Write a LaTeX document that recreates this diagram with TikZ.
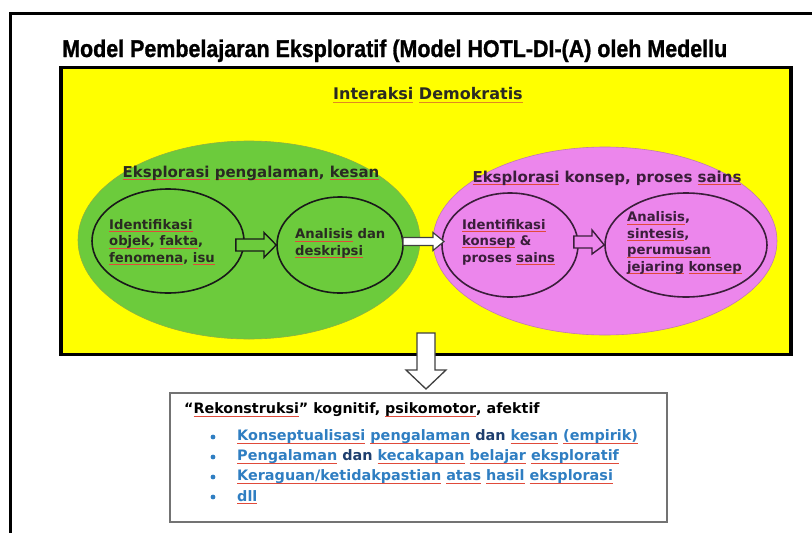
\documentclass[tikz,border=0pt]{standalone}
\usepackage{fontspec}
\setmainfont{DejaVu Sans}
\newfontfamily\titlefont[BoldFeatures={FakeBold=1.2}]{Liberation Sans}
\usetikzlibrary{shapes.geometric}
\definecolor{ylw}{HTML}{FFFF00}
\definecolor{grn}{HTML}{6CCB3C}
\definecolor{grnedge}{HTML}{8FB040}
\definecolor{pnk}{HTML}{EC86EC}
\definecolor{pnkedge}{HTML}{C07AB0}
\definecolor{ulred}{HTML}{E04A3A}
\definecolor{ulorg}{HTML}{E08A20}
\definecolor{txtdark}{HTML}{2A2A22}
\definecolor{txtpurp}{HTML}{3A1E3A}
\definecolor{blu}{HTML}{2F7EC2}
\definecolor{dblu}{HTML}{1E3E6E}
\newsavebox\ulbox
\newcommand\ru[1]{\sbox\ulbox{#1}\rlap{\color{ulred}\rule[-2.6pt]{\wd\ulbox}{0.8pt}}\usebox\ulbox}
\newcommand\ro[1]{\sbox\ulbox{#1}\rlap{\color{ulorg}\rule[-2.6pt]{\wd\ulbox}{0.8pt}}\usebox\ulbox}
\tikzset{
  bigell/.style={ellipse, inner sep=0pt, line width=0.6pt},
  innerell/.style={ellipse, draw, inner sep=0pt, line width=1.6pt},
  head/.style={font=\bfseries\fontsize{15}{18}\selectfont, inner sep=0pt},
  body/.style={font=\bfseries\fontsize{13.2}{16.5}\selectfont, align=left, anchor=west, inner sep=0pt},
  blockarrow/.style={line width=1.4pt, line join=miter},
}
\begin{document}
\begin{tikzpicture}[x=1pt,y=-1pt]
\useasboundingbox (0,0) rectangle (812,533);
\clip (0,0) rectangle (812,533);
% outer frame
\draw[line width=3pt] (10,560) -- (10,13) -- (830,13);
% title
\node[anchor=base west, inner sep=0pt] (title) at (62,57)
  {\resizebox{665pt}{17.5pt}{\titlefont\bfseries Model Pembelajaran Eksploratif (Model HOTL-DI-(A) oleh Medellu}};
% yellow panel
\node[draw, fill=ylw, line width=3.5pt, minimum width=730pt, minimum height=287pt, inner sep=0pt] (Y) at (426,211) {};
\node[head, font=\bfseries\fontsize{16}{19}\selectfont, text=txtdark] (ID) at (428,95) {\ro{Interaksi} \ro{Demokratis}};
% green ellipse
\node[bigell, draw=grnedge, fill=grn, minimum width=342pt, minimum height=198pt] (G) at (249,240) {};
\node[head, text=txtdark] (GH) at (251,173) {\ru{Eksplorasi} \ru{pengalaman}, \ru{kesan}};
\node[innerell, draw=black!90, minimum width=152pt, minimum height=104pt] (G1) at (168,241) {};
\node[innerell, draw=black!90, minimum width=126pt, minimum height=96pt] (G2) at (340,245) {};
\node[body, text=txtdark] (G1t) at (109,242) {\ru{Identifikasi}\\\ru{objek}, \ru{fakta},\\\ru{fenomena}, \ru{isu}};
\node[body, text=txtdark] (G2t) at (295,243.5) {\ru{Analisis} dan\\\ru{deskripsi}};
% pink ellipse
\node[bigell, draw=pnkedge, fill=pnk, minimum width=344pt, minimum height=188pt] (P) at (605,241) {};
\node[head, text=txtpurp] (PH) at (607,178) {\ru{Eksplorasi} konsep, proses \ru{sains}};
\node[innerell, draw=txtpurp, minimum width=136pt, minimum height=104pt] (P1) at (510,245) {};
\node[innerell, draw=txtpurp, minimum width=162pt, minimum height=104pt] (P2) at (686,245) {};
\node[body, text=txtpurp] (P1t) at (462,242) {\ru{Identifikasi}\\\ru{konsep} \&\\proses \ru{sains}};
\node[body, text=txtpurp] (P2t) at (627,243) {\ru{Analisis},\\\ru{sintesis},\\\ru{perumusan}\\\ru{jejaring} \ru{konsep}};
% small hollow arrows
\draw[blockarrow, draw=black!90, fill=grn]
  ([xshift=-9pt]G1.east |- 0,239) -- (264,239) -- (264,232.5) -- (G2.west) -- (264,257.5) -- (264,251) -- ([xshift=-9pt]G1.east |- 0,251) -- cycle;
\draw[blockarrow, draw=txtpurp, fill=pnk]
  ([xshift=-5pt]P1.east |- 0,236) -- (592,236) -- (592,230) -- (P2.west) -- (592,254) -- (592,248) -- ([xshift=-5pt]P1.east |- 0,248) -- cycle;
% white arrow between ellipses
\draw[line width=1.2pt, draw=black!75, fill=white]
  (403,237.5) -- (433,237.5) -- (433,232.5) -- (444,241.5) -- (433,250.5) -- (433,245.5) -- (403,245.5) -- cycle;
% down arrow
\draw[line width=1.3pt, draw=black!75, fill=white]
  (417,333) -- (435,333) -- (435,370) -- (446,370) -- (426,389) -- (406,370) -- (417,370) -- cycle;
% result box
\node[draw=black!55, line width=1.2pt, fill=white, minimum width=497pt, minimum height=129pt, inner sep=0pt] (R) at (418.5,457.5) {};
\node[anchor=west, inner sep=0pt, font=\bfseries\fontsize{14.3}{16}\selectfont, text=black] (RT) at (184,410)
  {``\ru{Rekonstruksi}'' kognitif, \ru{psikomotor}, afektif};
\foreach \yy/\tx [count=\i] in {437/{\ru{Konseptualisasi} \ru{pengalaman} {\color{dblu}dan} \ru{kesan} \ru{(empirik)}},
  457/{\ru{Pengalaman} {\color{dblu}dan} \ru{kecakapan} \ru{belajar} \ru{eksploratif}},
  477/{\ru{Keraguan/ketidakpastian} \ru{atas} \ru{hasil} \ru{eksplorasi}},
  497/{\ru{dll}}}{
  \node[circle, fill=blu, inner sep=0pt, minimum size=4.8pt] (b\i) at (213,\yy) {};
  \node[anchor=west, inner sep=0pt, font=\bfseries\fontsize{14.4}{16}\selectfont, text=blu] (bt\i) at (237,\yy) {\tx};
}
\end{tikzpicture}
\end{document}
